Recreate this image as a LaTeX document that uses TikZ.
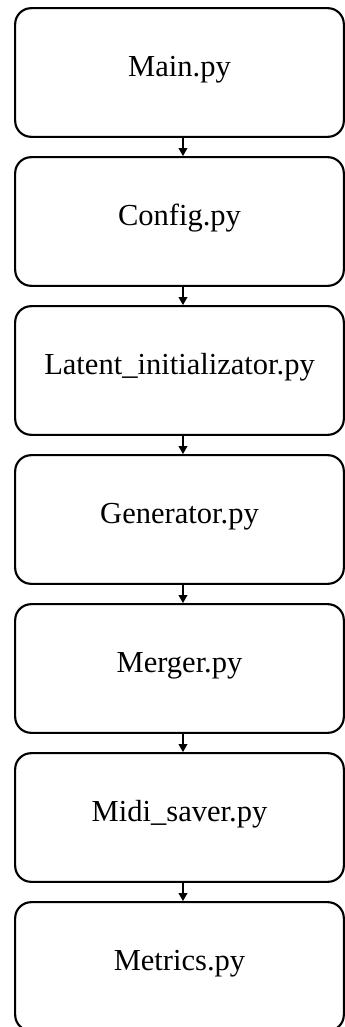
\documentclass[tikz,border=0pt]{standalone}
\usepackage{fontspec}
\setmainfont{Liberation Serif}
\usetikzlibrary{arrows.meta}
\begin{document}
\begin{tikzpicture}[x=0.75pt,y=-0.75pt,
  modbox/.style={draw=black, line width=1.6pt, rounded corners=12pt,
    minimum width=246.5pt, minimum height=96.5pt, inner sep=0pt,
    text height=0.66em, text depth=0.22em,
    font=\fontsize{22.9}{27}\selectfont},
  flow/.style={line width=1.1pt, -{Triangle[width=6.5pt,length=6pt]}}]
\useasboundingbox (0,0) rectangle (345,1027);
% module boxes, one per source file, stacked top to bottom
\foreach \i/\name/\label in {0/main/Main.py, 1/config/Config.py,
    2/latent/Latent\_initializator.py, 3/generator/Generator.py,
    4/merger/Merger.py, 5/midi/Midi\_saver.py, 6/metrics/Metrics.py}{
  \node[modbox] (\name) at (179.5, 72.5+149*\i) {\raisebox{-1pt}{\label}};
}
% call order
\foreach \a/\b in {main/config, config/latent, latent/generator,
    generator/merger, merger/midi, midi/metrics}{
  \draw[flow] ([xshift=2.6pt]\a.south) -- ([xshift=2.6pt]\b.north);
}
\end{tikzpicture}
\end{document}
